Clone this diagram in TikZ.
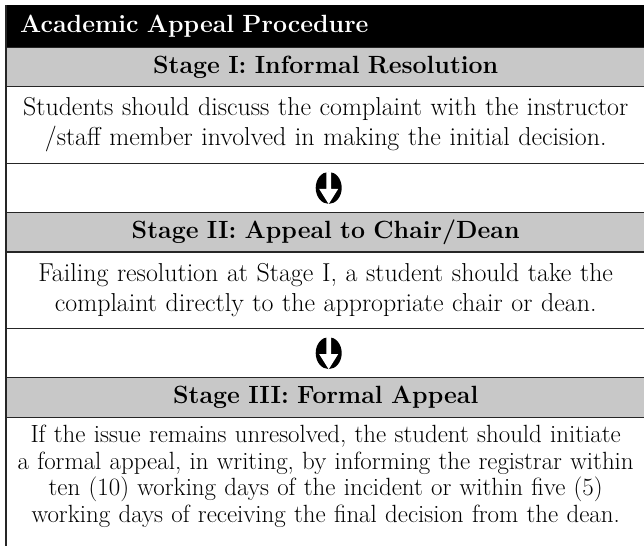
\documentclass[tikz,border=0pt]{standalone}
\usetikzlibrary{positioning,shapes.geometric}
\definecolor{stagegray}{RGB}{200,200,200}
\tikzset{
    row/.style={rectangle, inner xsep=0pt, inner ysep=0pt, minimum width=639bp, text width=638bp, align=center},
    headrow/.style={row, fill=black, text=white, text width=611bp, align=left, minimum height=42bp, font=\fontsize{25}{28}\selectfont\bfseries},
    stagerow/.style={row, fill=stagegray, minimum height=39bp, font=\fontsize{25}{28}\selectfont\bfseries},
    textrow/.style={row, minimum height=76bp, font=\fontsize{26}{30}\selectfont},
    lastrow/.style={row, inner ysep=8bp, font=\fontsize{25}{26.5}\selectfont},
    arrowrow/.style={row, minimum height=49bp},
    rule/.style={line width=1.3bp, draw=black!85},
    roundarrow/.style={ellipse, fill=black, inner sep=0pt, minimum width=26bp, minimum height=32bp}
}
\begin{document}
\begin{tikzpicture}
    \useasboundingbox (0,0) rectangle (644bp,-546bp);
    \node[headrow, anchor=north west] (head) at (6bp,-5bp) {Academic Appeal Procedure};
    \node[stagerow, below=0pt of head] (s1) {Stage I: Informal Resolution};
    \node[textrow, below=0pt of s1] (t1) {Students should discuss the complaint with the instructor\\ /staff member involved in making the initial decision.};
    \node[arrowrow, below=0pt of t1] (a1) {};
    \node[stagerow, below=0pt of a1] (s2) {Stage II: Appeal to Chair/Dean};
    \node[textrow, below=0pt of s2] (t2) {Failing resolution at Stage I, a student should take the\\ complaint directly to the appropriate chair or dean.};
    \node[arrowrow, below=0pt of t2] (a2) {};
    \node[stagerow, below=0pt of a2] (s3) {Stage III: Formal Appeal};
    \node[lastrow, below=0pt of s3] (t3) {If the issue remains unresolved, the student should initiate\\ a formal appeal, in writing, by informing the registrar within\\ ten (10) working days of the incident or within five (5)\\ working days of receiving the final decision from the dean.};
    \coordinate (floor) at (0,-560bp);

    \foreach \r in {s1,t1,a1,s2,t2,a2,s3,t3}
        \draw[rule] (\r.north west) -- (\r.north east);
    \draw[rule] (head.north west) -- (head.north west |- floor);
    \draw[rule] (head.north east) -- (head.north east |- floor);

    \foreach \a in {a1,a2} {
        \node[roundarrow] (o\a) at ([xshift=3bp]\a.center) {};
        \fill[white] ([xshift=-2.4bp]o\a.north) -- ([xshift=2.4bp]o\a.north)
            -- ([xshift=2.4bp,yshift=-1bp]o\a.center) -- ([xshift=9.5bp,yshift=-1bp]o\a.center)
            -- (o\a.south) -- ([xshift=-9.5bp,yshift=-1bp]o\a.center)
            -- ([xshift=-2.4bp,yshift=-1bp]o\a.center) -- cycle;
    }
\end{tikzpicture}
\end{document}
